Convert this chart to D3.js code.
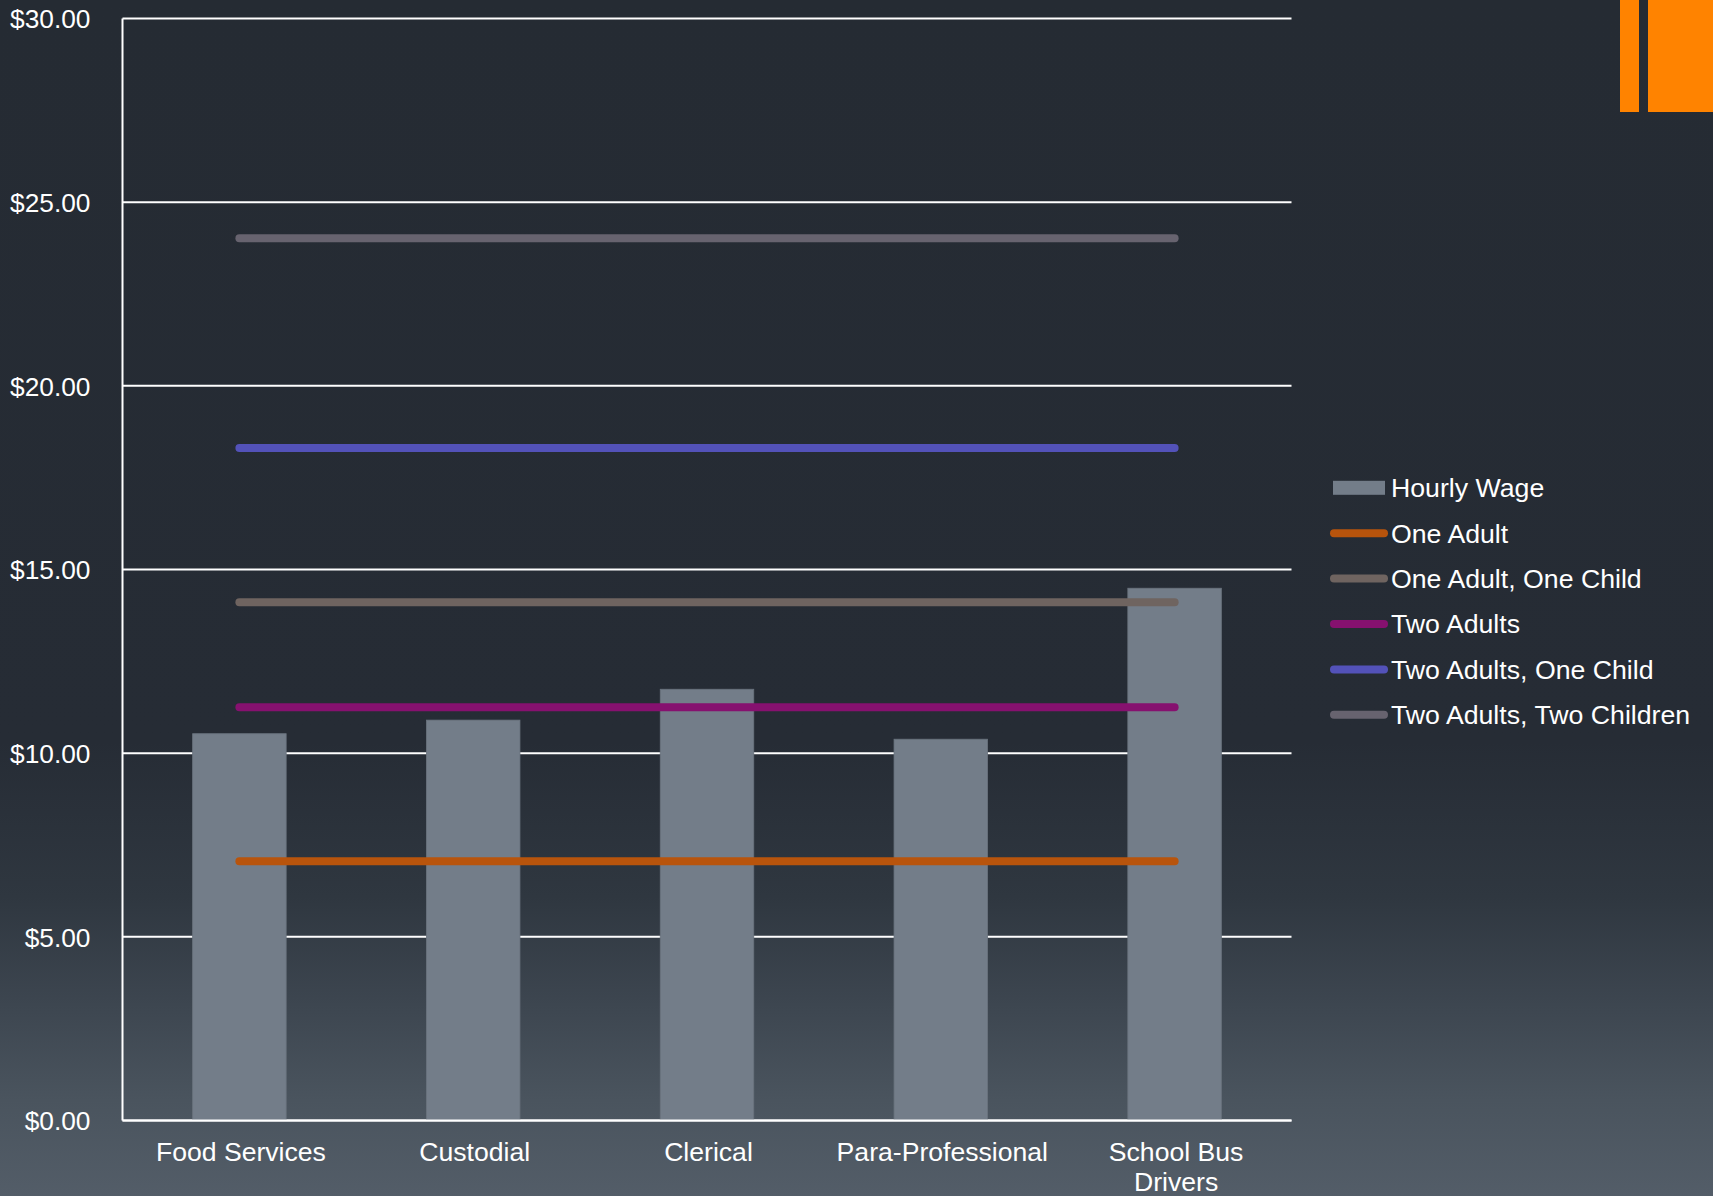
<!DOCTYPE html>
<html>
<head>
<meta charset="utf-8">
<script src="https://cdn.jsdelivr.net/npm/d3@7"></script>
<style>
html,body{margin:0;padding:0;overflow:hidden;background:#252b33;}
svg{display:block;}
text{font-family:"Liberation Sans",Arial,sans-serif;fill:#ffffff;}
</style>
</head>
<body>
<svg id="chart" width="1713" height="1196"></svg>
<script>
const categories = ["Food Services","Custodial","Clerical","Para-Professional","School Bus Drivers"];
const hourlyWage = [10.53, 10.90, 11.74, 10.38, 14.49];
const oneAdult = [7.06, 7.06, 7.06, 7.06, 7.06];
const oneAdultOneChild = [14.11, 14.11, 14.11, 14.11, 14.11];
const twoAdults = [11.25, 11.25, 11.25, 11.25, 11.25];
const twoAdultsOneChild = [18.31, 18.31, 18.31, 18.31, 18.31];
const twoAdultsTwoChildren = [24.02, 24.02, 24.02, 24.02, 24.02];
const yTicks = [0, 5, 10, 15, 20, 25, 30];

const lineSeries = [
  {name:"One Adult", values: oneAdult, color:"#b8540c"},
  {name:"One Adult, One Child", values: oneAdultOneChild, color:"#6f6460"},
  {name:"Two Adults", values: twoAdults, color:"#86116f"},
  {name:"Two Adults, One Child", values: twoAdultsOneChild, color:"#5352b9"},
  {name:"Two Adults, Two Children", values: twoAdultsTwoChildren, color:"#67636f"}
];
const barColor = "#737d89";

(function(){
const svg = d3.select("#chart");
const W = 1713, H = 1196;

// background gradient
const defs = svg.append("defs");
const grad = defs.append("linearGradient").attr("id","bg").attr("x1",0).attr("y1",0).attr("x2",0).attr("y2",1);
[[0,"#252b33"],[0.62,"#262c35"],[0.75,"#2f3740"],[0.84,"#3d4650"],[0.92,"#4a545e"],[1,"#535d68"]]
  .forEach(([o,c]) => grad.append("stop").attr("offset",o).attr("stop-color",c));
svg.append("rect").attr("width",W).attr("height",H).attr("fill","url(#bg)");

// orange decoration
svg.append("rect").attr("x",1620).attr("y",0).attr("width",19).attr("height",112).attr("fill","#ff8300");
svg.append("rect").attr("x",1648).attr("y",0).attr("width",65).attr("height",112).attr("fill","#ff8300");

const pLeft = 122.5, pRight = 1291.5, pTop = 18.5, pBottom = 1120.5;
const x = d3.scaleBand().domain(categories).range([pLeft, pRight]).paddingInner(0.6).paddingOuter(0.3);
const y = d3.scaleLinear().domain([0, 30]).range([pBottom, pTop]);

// gridlines
svg.append("g").selectAll("line").data(yTicks).join("line")
  .attr("x1", pLeft).attr("x2", pRight)
  .attr("y1", d => y(d)).attr("y2", d => y(d))
  .attr("stroke", "#ffffff").attr("stroke-width", 2);

// y axis labels
const yAxis = d3.axisLeft(y).tickValues(yTicks).tickSize(0).tickPadding(32)
  .tickFormat(d => "$" + d3.format(".2f")(d));
const ga = svg.append("g").attr("transform", `translate(${pLeft},0)`).call(yAxis);
ga.select(".domain").remove();
ga.selectAll("text").attr("font-size", 26.3).attr("font-family", null).attr("fill", "#ffffff").attr("dy","0.35em");

// bars
svg.append("g").selectAll("rect").data(categories).join("rect")
  .attr("x", d => x(d)).attr("width", x.bandwidth())
  .attr("y", (d,i) => y(hourlyWage[i])).attr("height", (d,i) => y(0) - y(hourlyWage[i]))
  .attr("fill", barColor).attr("stroke","#6a737e").attr("stroke-width",0.8);

// axis lines on top
svg.append("line").attr("x1", pLeft).attr("x2", pLeft).attr("y1", pTop).attr("y2", pBottom)
  .attr("stroke", "#ffffff").attr("stroke-width", 2);
svg.append("line").attr("x1", pLeft).attr("x2", pRight).attr("y1", pBottom).attr("y2", pBottom)
  .attr("stroke", "#ffffff").attr("stroke-width", 2);

// lines
const lineGen = d3.line().x((d,i) => x(categories[i]) + x.bandwidth()/2).y(d => y(d));
svg.append("g").selectAll("path").data(lineSeries).join("path")
  .attr("d", s => lineGen(s.values))
  .attr("fill", "none").attr("stroke", s => s.color)
  .attr("stroke-width", 8).attr("stroke-linecap", "round");

// x labels
const xl = svg.append("g");
categories.forEach(c => {
  const cx = x(c) + x.bandwidth()/2 + 1.5;
  const t = xl.append("text").attr("x", cx).attr("y", 1160.5).attr("text-anchor","middle").attr("font-size",26.6);
  if (c === "School Bus Drivers") {
    t.append("tspan").attr("x", cx).text("School Bus");
    t.append("tspan").attr("x", cx).attr("dy", 30).text("Drivers");
  } else {
    t.text(c);
  }
});

// legend
const lg = svg.append("g");
const legendY0 = 487.8, legendStep = 45.4;
lg.append("rect").attr("x",1333).attr("y",legendY0-7).attr("width",52).attr("height",14).attr("fill",barColor);
lg.append("text").attr("x",1391).attr("y",legendY0).attr("dy","0.35em").attr("font-size",26.7).text("Hourly Wage");
lineSeries.forEach((s,i) => {
  const yy = legendY0 + legendStep*(i+1);
  lg.append("line").attr("x1",1334).attr("x2",1384).attr("y1",yy).attr("y2",yy)
    .attr("stroke",s.color).attr("stroke-width",8).attr("stroke-linecap","round");
  lg.append("text").attr("x",1391).attr("y",yy).attr("dy","0.35em").attr("font-size",26.7).text(s.name);
});
})();
</script>
</body>
</html>
